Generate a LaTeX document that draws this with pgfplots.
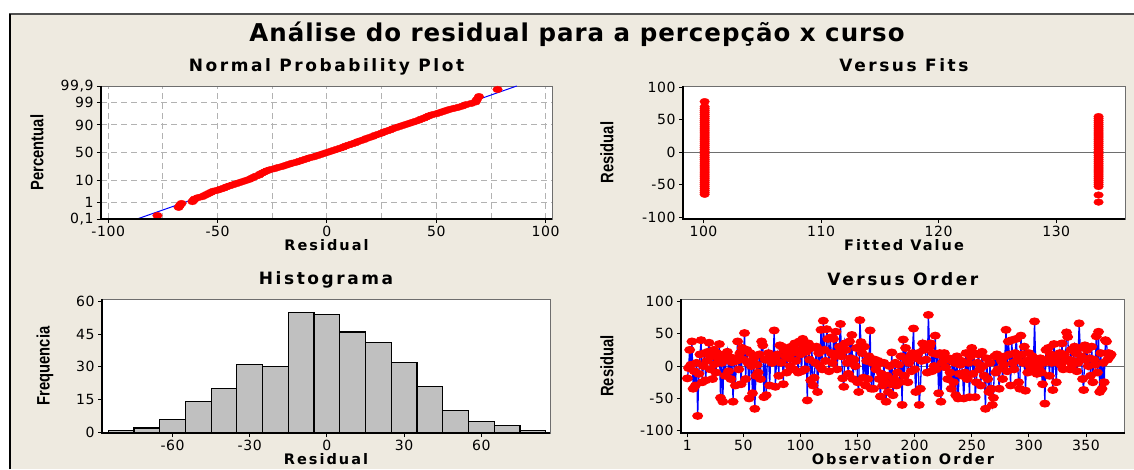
\documentclass[border=0pt]{standalone}
\usepackage{fontspec}
\setmainfont{DejaVu Sans}
\newfontfamily\lsfont[LetterSpace=15]{DejaVu Sans}
\newfontfamily\labfont[LetterSpace=14]{DejaVu Sans}
\newfontfamily\mainfont[LetterSpace=4]{DejaVu Sans}
\newfontfamily\tickfont[LetterSpace=4]{DejaVu Sans}
\newfontfamily\narrowfont[FakeStretch=0.82]{Liberation Sans}
\usepackage{pgfplots}
\pgfplotsset{compat=1.18}
\definecolor{bg}{RGB}{238,234,224}
\definecolor{mred}{RGB}{255,0,0}
\definecolor{mblue}{RGB}{0,0,255}
\definecolor{barfill}{RGB}{192,192,192}
\definecolor{frame}{RGB}{110,110,110}
\definecolor{topline}{RGB}{80,80,80}
\pgfplotsset{
  mtb/.style={
    scale only axis,
    anchor=south west,
    axis background/.style={fill=white},
    axis line style={draw=frame, line width=0.6pt},
    tick align=outside,
    xtick pos=left, ytick pos=left,
    major tick length=4pt,
    every tick/.style={black, line width=0.9pt},
    ticklabel style={font=\tickfont\fontsize{14}{16}\selectfont},
    /pgf/number format/assume math mode=true,
    title style={font=\lsfont\bfseries\fontsize{17}{19}\selectfont, at={(axis description cs:0.5,1)}, anchor=base, yshift=8pt},
    xlabel style={font=\labfont\bfseries\fontsize{14.5}{16}\selectfont, at={(axis description cs:0.5,0)}, anchor=base, yshift=-31pt},
    ylabel style={font=\narrowfont\bfseries\fontsize{18}{20}\selectfont, anchor=center},
    after end axis/.code={\draw[black,line width=1.3pt] (rel axis cs:0,1)--(rel axis cs:0,0)--(rel axis cs:1,0);},
  },
  ylab/.style={ylabel style={at={([xshift=-#1]axis description cs:0,0.5)}}},
  redmark/.style={mark=*, mark size=3.3pt, mark options={xscale=1.45, draw=mred, fill=mred, solid}},
}
\begin{document}
\begin{tikzpicture}[x=1pt,y=1pt]
\path[use as bounding box] (0,0) rectangle (1134,469);
\fill[white] (0,0) rectangle (1134,469);
\fill[bg] (9,0) rectangle (1134,455);
\draw[topline, line width=2pt] (9,455) -- (1134,455);
\draw[black, line width=1.5pt] (9.75,0) -- (9.75,455);
\node[font=\mainfont\bfseries\fontsize{24.5}{27}\selectfont, anchor=base] at (577,427) {Análise do residual para a percepção x curso};

% ---------------- Normal probability plot
\begin{axis}[mtb, at={(101pt,250pt)}, width=451pt, height=133pt,
  xmin=-103.3, xmax=102.9, ymin=-3.0902, ymax=3.0902,
  xtick={-100,-50,0,50,100}, minor xtick={-75,-25,25,75},
  ytick={-3.0902,-2.3263,-1.2816,0,1.2816,2.3263,3.0902},
  yticklabels={{0,1},1,10,50,90,99,{99,9}},
  grid=both, grid style={dash pattern=on 6pt off 4pt, gray!60, line width=0.9pt}, minor tick length=0pt,
  title={Normal Probability Plot}, xlabel={Residual}, ylabel={Percentual},
  ylab=64pt]
\addplot[mblue, line width=1pt] coordinates {(-86.8,-3.0902) (86.8,3.0902)};
\addplot[only marks, redmark] coordinates {
(-77.5,-2.93) (-67.8,-2.55) (-67.2,-2.45) (-66.5,-2.37) (-61.5,-2.28) (-61,-2.22) (-60.5,-2.16) (-59,-2.10) (-57,-2.05) (-56,-2.00)
(-55,-1.95) (-54,-1.90) (-53,-1.85) (-52,-1.80) (-50,-1.75) (-48.5,-1.70) (-47,-1.65) (-46,-1.60) (-44.5,-1.55) (-43,-1.50)
(-41.5,-1.45) (-40,-1.40) (-38.5,-1.35) (-37,-1.30) (-35.5,-1.25) (-34.5,-1.20) (-33.5,-1.15) (-32.5,-1.10) (-31,-1.05) (-30.5,-1.00)
(-29.5,-0.95) (-28.5,-0.90) (-27.5,-0.85) (-26,-0.80) (-24,-0.75) (-22.5,-0.70) (-20.5,-0.65) (-19,-0.60) (-17.5,-0.55) (-16,-0.50)
(-14,-0.45) (-12.5,-0.40) (-11,-0.35) (-9.5,-0.30) (-8,-0.25) (-6,-0.20) (-4.5,-0.15) (-3,-0.10) (-1.5,-0.05) (0,0)
(1.5,0.05) (3,0.10) (4.5,0.15) (6,0.20) (7.5,0.25) (8.5,0.30) (10,0.35) (11.5,0.40) (13,0.45) (14,0.50)
(15.5,0.55) (17,0.60) (18,0.65) (19.5,0.70) (21,0.75) (22,0.80) (23.5,0.85) (25,0.90) (26,0.95) (27.5,1.00)
(29,1.05) (30,1.10) (31.5,1.15) (33,1.20) (34.5,1.25) (36,1.30) (37.5,1.35) (39,1.40) (40.5,1.45) (42,1.50)
(43,1.55) (44.5,1.60) (45.5,1.65) (46.5,1.70) (48,1.75) (50,1.80) (51.5,1.85) (53,1.90) (54.5,1.95)
(56,2.00) (58,2.05) (60,2.10) (62,2.16) (63.5,2.22) (66,2.28) (68,2.35) (68.5,2.45) (69.5,2.60) (78,2.93)};
\end{axis}

% ---------------- Versus fits
\begin{axis}[mtb, at={(683pt,250pt)}, width=442pt, height=133pt,
  xmin=98.26, xmax=135.85, ymin=-103, ymax=102,
  xtick={100,110,120,130}, ytick={-100,-50,0,50,100},
  title={Versus Fits}, xlabel={Fitted Value}, ylabel={Residual},
  ylab=76pt]
\addplot[frame, line width=0.9pt] coordinates {(98.26,0) (135.85,0)};
\addplot[only marks, redmark] coordinates {
(100.1,78) (100.1,70) (100.1,67) (100.1,64) (100.1,61) (100.1,58) (100.1,55) (100.1,52) (100.1,49) (100.1,46)
(100.1,43) (100.1,40) (100.1,37) (100.1,34) (100.1,31) (100.1,28) (100.1,25) (100.1,22) (100.1,19) (100.1,16)
(100.1,13) (100.1,10) (100.1,7) (100.1,4) (100.1,1) (100.1,-2) (100.1,-5) (100.1,-8) (100.1,-11) (100.1,-14)
(100.1,-17) (100.1,-20) (100.1,-23) (100.1,-26) (100.1,-29) (100.1,-32) (100.1,-35) (100.1,-38) (100.1,-41) (100.1,-44)
(100.1,-47) (100.1,-50) (100.1,-53) (100.1,-56) (100.1,-59) (100.1,-62) (100.1,-65)
(133.6,55) (133.6,52) (133.6,49) (133.6,46) (133.6,43) (133.6,40) (133.6,37) (133.6,34) (133.6,31) (133.6,28)
(133.6,25) (133.6,22) (133.6,19) (133.6,16) (133.6,13) (133.6,10) (133.6,7) (133.6,4) (133.6,1) (133.6,-2)
(133.6,-5) (133.6,-8) (133.6,-11) (133.6,-14) (133.6,-17) (133.6,-20) (133.6,-23) (133.6,-26) (133.6,-29) (133.6,-32)
(133.6,-35) (133.6,-38) (133.6,-41) (133.6,-44) (133.6,-47) (133.6,-50) (133.6,-53) (133.6,-66) (133.6,-77)};
\end{axis}

% ---------------- Histogram
\begin{axis}[mtb, at={(102pt,36pt)}, width=448pt, height=134pt,
  xmin=-87.4, xmax=86.7, ymin=-0.3, ymax=61.1,
  xtick={-60,-30,0,30,60}, ytick={0,15,30,45,60},
  title={Histograma}, xlabel={Residual}, ylabel={Frequencia},
  ylab=57pt]
\addplot[ybar interval, fill=barfill, draw=black, line width=1.2pt] coordinates {
(-85,1) (-75,2) (-65,6) (-55,14) (-45,20) (-35,31) (-25,30) (-15,55) (-5,54) (5,46)
(15,41) (25,32) (35,21) (45,10) (55,5) (65,3) (75,1) (85,1)};
\end{axis}

% ---------------- Versus order
\begin{axis}[mtb, at={(681pt,36pt)}, width=443pt, height=134pt,
  xmin=-4.6, xmax=384, ymin=-103.4, ymax=103.6,
  xtick={1,50,100,150,200,250,300,350}, ytick={-100,-50,0,50,100},
  title={Versus Order}, xlabel={Observation Order}, ylabel={Residual},
  ylab=74pt]
\addplot[frame, line width=0.9pt] coordinates {(-4.6,0) (384,0)};
\addplot[mblue, line width=1.3pt, redmark] coordinates {
(1,-19) (2,-3) (3,25) (4,2) (5,38) (6,-35) (7,-8) (8,-30) (9,5) (10,-77)
(11,-12) (12,18) (13,40) (14,-25) (15,0) (16,20) (17,-22) (18,8) (19,22) (20,36)
(21,-5) (22,15) (23,-20) (24,25) (25,3) (26,-10) (27,20) (28,12) (29,34) (30,-49)
(31,5) (32,-55) (33,18) (34,-15) (35,10) (36,22) (37,-8) (38,14) (39,-20) (40,6)
(41,-55) (42,12) (43,-30) (44,8) (45,38) (46,-5) (47,20) (48,-28) (49,28) (50,10)
(51,51) (52,-20) (53,25) (54,5) (55,-50) (56,20) (57,0) (58,-42) (59,12) (60,-66)
(61,-15) (62,2) (63,-10) (64,18) (65,-20) (66,38) (67,32) (68,-48) (69,10) (70,-45)
(71,10) (72,20) (73,-30) (74,15) (75,5) (76,10) (77,55) (78,-32) (79,8) (80,18)
(81,-15) (82,32) (83,5) (84,30) (85,-28) (86,25) (87,15) (88,-10) (89,28) (90,12)
(91,0) (92,30) (93,20) (94,-5) (95,35) (96,8) (97,25) (98,-10) (99,38) (100,18)
(101,-8) (102,42) (103,30) (104,-5) (105,22) (106,-53) (107,35) (108,10) (109,-22) (110,28)
(111,-30) (112,-18) (113,5) (114,30) (115,-40) (116,20) (117,0) (118,56) (119,-5) (120,70)
(121,25) (122,8) (123,57) (124,42) (125,-8) (126,44) (127,20) (128,5) (129,42) (130,15)
(131,53) (132,-5) (133,20) (134,30) (135,65) (136,15) (137,-19) (138,-32) (139,35) (140,25)
(141,5) (142,-12) (143,38) (144,12) (145,48) (146,-20) (147,10) (148,0) (149,28) (150,-25)
(151,-40) (152,71) (153,37) (154,20) (155,-18) (156,30) (157,-30) (158,8) (159,-20) (160,15)
(161,55) (162,-35) (163,5) (164,-35) (165,10) (166,-5) (167,2) (168,8) (169,-20) (170,-47)
(171,-12) (172,-30) (173,5) (174,-25) (175,-55) (176,-15) (177,-40) (178,0) (179,-28) (180,21)
(181,-45) (182,-20) (183,5) (184,-30) (185,-10) (186,2) (187,-25) (188,15) (189,-60) (190,41)
(191,-15) (192,28) (193,10) (194,-25) (195,5) (196,15) (197,-8) (198,20) (199,58) (200,-5)
(201,-40) (202,12) (203,20) (204,-60) (205,-35) (206,8) (207,35) (208,25) (209,30) (210,10)
(211,-10) (212,79) (213,30) (214,35) (215,-8) (216,20) (217,0) (218,47) (219,-5) (220,18)
(221,-42) (222,20) (223,-55) (224,5) (225,15) (226,20) (227,-2) (228,10) (229,-20) (230,12)
(231,-10) (232,-35) (233,8) (234,-25) (235,5) (236,-45) (237,15) (238,-50) (239,-12) (240,2)
(241,8) (242,-15) (243,-50) (244,-10) (245,20) (246,-20) (247,5) (248,-48) (249,15) (250,28)
(251,-12) (252,20) (253,-48) (254,-25) (255,5) (256,18) (257,-5) (258,-30) (259,22) (260,0)
(261,-15) (262,-66) (263,12) (264,-20) (265,-40) (266,5) (267,-35) (268,-60) (269,-49) (270,15)
(271,-10) (272,18) (273,-5) (274,-35) (275,15) (276,8) (277,-20) (278,2) (279,15) (280,56)
(281,-8) (282,38) (283,18) (284,-30) (285,40) (286,5) (287,-5) (288,20) (289,42) (290,10)
(291,-25) (292,-35) (293,47) (294,18) (295,5) (296,30) (297,-38) (298,8) (299,-10) (300,20)
(301,0) (302,-8) (303,15) (304,5) (305,69) (306,2) (307,-12) (308,8) (309,-5) (310,12)
(311,-10) (312,-28) (313,5) (314,-58) (315,25) (316,10) (317,28) (318,-15) (319,18) (320,5)
(321,-37) (322,34) (323,10) (324,-25) (325,15) (326,5) (327,20) (328,2) (329,35) (330,-5)
(331,18) (332,8) (333,52) (334,45) (335,10) (336,-5) (337,25) (338,2) (339,8) (340,30)
(341,20) (342,-8) (343,5) (344,66) (345,28) (346,15) (347,-20) (348,-37) (349,32) (350,10)
(351,25) (352,0) (353,12) (354,-15) (355,30) (356,-25) (357,10) (358,2) (359,46) (360,-10)
(361,53) (362,-40) (363,20) (364,-35) (365,5) (366,-25) (367,40) (368,38) (369,10) (370,20)
(371,15) (372,18)};
\end{axis}
\end{tikzpicture}
\end{document}
